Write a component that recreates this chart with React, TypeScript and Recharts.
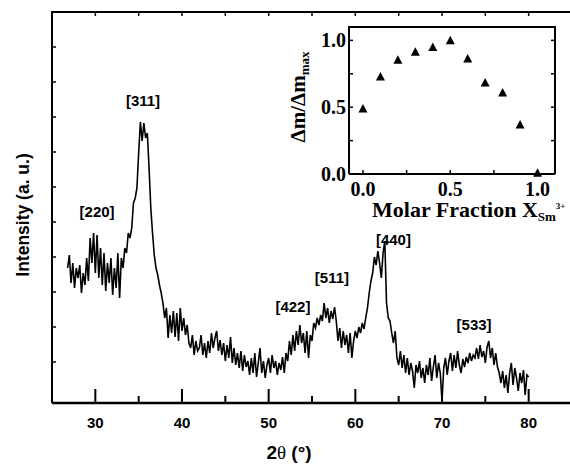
import React from "react";
import {
  LineChart,
  Line,
  XAxis,
  YAxis,
  ReferenceDot,
  ScatterChart,
  Scatter,
} from "recharts";

// XRD pattern (intensity in arbitrary units)
const twoThetaStart = 26.8;
const twoThetaStep = 0.2;
const intensity = [
  135,
  148, 120, 140, 115, 135,
  125, 138, 110, 130, 118,
  145, 122, 165, 140, 170,
  130, 168, 125, 155, 118,
  150, 112, 140, 120, 145,
  108, 135, 115, 150, 105,
  145, 135, 155, 150, 170,
  165, 175, 200, 205, 215,
  250, 281, 262, 280, 265,
  270, 235, 195, 170, 148,
  135, 128, 118, 110, 100,
  85, 95, 65, 88, 70,
  92, 66, 90, 62, 95,
  72, 85, 68, 78, 60,
  55, 68, 48, 62, 52,
  55, 68, 48, 60, 45,
  62, 50, 70, 55, 65,
  72, 52, 63, 48, 60,
  42, 58, 45, 66, 40,
  55, 38, 50, 35, 52,
  32, 48, 36, 42, 28,
  45, 30, 50, 26, 40,
  55, 30, 42, 25, 38,
  45, 30, 48, 35, 42,
  28, 40, 33, 46, 30,
  50, 42, 62, 48, 68,
  52, 72, 58, 78, 60,
  70, 50, 72, 45, 68,
  62, 80, 75, 85, 78,
  88, 82, 100, 85, 95,
  80, 92, 84, 96, 82,
  62, 75, 55, 72, 58,
  68, 50, 70, 45, 62,
  72, 65, 76, 70, 80,
  74, 85, 95, 110, 122,
  130, 146, 138, 152, 140,
  125, 150, 162, 100, 85,
  82, 70, 60, 72, 45,
  38, 52, 35, 48, 30,
  45, 28, 40, 32, 15,
  38, 30, 42, 25, 35,
  20, 38, 28, 45, 22,
  36, 48, 25, 40, 30,
  2, 35, 45, 28, 42,
  50, 32, 48, 35, 52,
  38, 30, 44, 36, 46,
  40, 50, 42, 48, 45,
  55, 44, 58, 46, 52,
  40, 56, 62, 45, 55,
  38, 50, 36, 30, 20,
  32, 15, 28, 10, 30,
  40, 18, 35, 25, 12,
  30, 20, 33, 8, 28,
  26,
];

const xTicks = [30, 35, 40, 45, 50, 55, 60, 65, 70, 75, 80];
const xMajorTicks = [30, 40, 50, 60, 70, 80];
const yMax = 391;
const yTicks = [41, 76, 111, 146, 181, 216, 251, 286, 321, 356];

const peakLabels = ["[220]", "[311]", "[422]", "[511]", "[440]", "[533]"];
const peakTwoTheta = [30.2, 35.5, 52.8, 57.3, 64.4, 73.7];
const peakLabelHeight = [191, 302, 96, 125, 163, 78];

// inset: normalised mass change vs Sm3+ fraction
const molarFraction = [0, 0.1, 0.2, 0.3, 0.4, 0.5, 0.6, 0.7, 0.8, 0.9, 1.0];
const massRatio = [0.49, 0.73, 0.855, 0.915, 0.95, 1.0, 0.865, 0.685, 0.61, 0.37, 0.01];
const insetYMax = 1.1;
const insetTicks = [0, 0.25, 0.5, 0.75, 1];
const insetLabelled = [0, 0.5, 1];

const xrdData = intensity.map((h, i) => ({
  tt: +(twoThetaStart + i * twoThetaStep).toFixed(1),
  h,
}));
const insetData = molarFraction.map((x, i) => ({ x, y: massRatio[i] }));
const peakData = peakLabels.map((label, i) => ({
  label,
  tt: peakTwoTheta[i],
  h: peakLabelHeight[i],
}));

// plot-area frames (px): main 52..572 x 12..403, inset 349..555 x 27..174
const mainPlotH = 391;

const sans = "'Liberation Sans', Arial, sans-serif";
const serif = "'Liberation Serif', 'Times New Roman', serif";

function BottomTick({ x, y, payload }: any) {
  const major = xMajorTicks.includes(payload.value);
  const top = y - mainPlotH;
  return (
    <g>
      <line x1={x} x2={x} y1={y} y2={y - (major ? 14 : 7)} stroke="#000" strokeWidth={2} />
      <line x1={x} x2={x} y1={top} y2={top + 4} stroke="#000" strokeWidth={1.5} />
      {major && (
        <text x={x} y={y + 25} textAnchor="middle" fontFamily={sans} fontWeight="bold" fontSize={15} fill="#000">
          {payload.value}
        </text>
      )}
    </g>
  );
}

function LeftTick({ x, y }: any) {
  return <line x1={x} x2={x + 4} y1={y} y2={y} stroke="#000" strokeWidth={1.5} />;
}

function InsetBottomTick({ x, y, payload }: any) {
  const labelled = insetLabelled.includes(payload.value);
  return (
    <g>
      <line x1={x} x2={x} y1={y} y2={y - 4} stroke="#000" strokeWidth={1.5} />
      {labelled && (
        <text x={x} y={y + 22} textAnchor="middle" fontFamily={serif} fontWeight="bold" fontSize={20} fill="#000">
          {payload.value.toFixed(1)}
        </text>
      )}
    </g>
  );
}

function InsetLeftTick({ x, y, payload }: any) {
  const labelled = insetLabelled.includes(payload.value);
  return (
    <g>
      <line x1={x} x2={x + 4} y1={y} y2={y} stroke="#000" strokeWidth={1.5} />
      {labelled && (
        <text x={x - 3} y={y + 7} textAnchor="end" fontFamily={serif} fontWeight="bold" fontSize={20} fill="#000">
          {payload.value.toFixed(1)}
        </text>
      )}
    </g>
  );
}

function InsetRightTick({ x, y }: any) {
  return <line x1={x} x2={x - 4} y1={y} y2={y} stroke="#000" strokeWidth={1.5} />;
}

function Triangle({ cx, cy }: any) {
  return <polygon points={`${cx - 4.5},${cy + 4} ${cx + 4.5},${cy + 4} ${cx},${cy - 4.5}`} fill="#000" />;
}

function NoShape() {
  return null;
}

export default function App() {
  return (
    <div style={{ position: "absolute", left: 0, top: 0, width: 570, height: 470, overflow: "hidden", background: "#fff" }}>
      <div style={{ position: "absolute", left: 0, top: 0 }}>
        <LineChart width={580} height={470} data={xrdData} margin={{ top: 12, right: 8, bottom: 37, left: 0 }}>
          <XAxis
            dataKey="tt"
            type="number"
            domain={[25, 85]}
            ticks={xTicks}
            interval={0}
            height={30}
            tickSize={0}
            tickMargin={0}
            tickLine={false}
            axisLine={{ stroke: "#000", strokeWidth: 2.5 }}
            tick={<BottomTick />}
          />
          <YAxis
            type="number"
            domain={[0, yMax]}
            ticks={yTicks}
            interval={0}
            width={52}
            tickSize={0}
            tickMargin={0}
            tickLine={false}
            axisLine={{ stroke: "#000", strokeWidth: 2 }}
            tick={<LeftTick />}
          />
          <Line
            type="linear"
            dataKey="h"
            stroke="#000"
            strokeWidth={1.6}
            dot={false}
            isAnimationActive={false}
          />
          {peakData.map((p) => (
            <ReferenceDot
              key={p.label}
              x={p.tt}
              y={p.h}
              r={0}
              stroke="none"
              fill="none"
              label={{
                value: p.label,
                position: "center",
                fontFamily: sans,
                fontWeight: "bold",
                fontSize: 15,
                fill: "#000",
              }}
            />
          ))}
        </LineChart>
      </div>

      <div style={{ position: "absolute", left: 290, top: 0 }}>
        <ScatterChart width={280} height={230} margin={{ top: 27, right: 5, bottom: 26, left: 19 }}>
          <XAxis
            dataKey="x"
            type="number"
            domain={[-0.08, 1.1]}
            ticks={insetTicks}
            interval={0}
            height={30}
            tickSize={0}
            tickMargin={0}
            tickLine={false}
            axisLine={{ stroke: "#000", strokeWidth: 2 }}
            tick={<InsetBottomTick />}
          />
          <YAxis
            dataKey="y"
            type="number"
            domain={[0, insetYMax]}
            ticks={insetTicks}
            interval={0}
            width={40}
            tickSize={0}
            tickMargin={0}
            tickLine={false}
            axisLine={{ stroke: "#000", strokeWidth: 2 }}
            tick={<InsetLeftTick />}
          />
          <YAxis
            yAxisId="right"
            dataKey="y"
            orientation="right"
            type="number"
            domain={[0, insetYMax]}
            ticks={insetTicks}
            interval={0}
            width={10}
            tickSize={0}
            tickMargin={0}
            tickLine={false}
            axisLine={{ stroke: "#000", strokeWidth: 2 }}
            tick={<InsetRightTick />}
          />
          <Scatter data={insetData} shape={<Triangle />} isAnimationActive={false} />
          <Scatter data={insetData} yAxisId="right" shape={<NoShape />} isAnimationActive={false} />
        </ScatterChart>
      </div>

      <svg width={570} height={470} style={{ position: "absolute", left: 0, top: 0, pointerEvents: "none" }}>
        {/* closing top borders of the two frames */}
        <line x1={51} x2={570} y1={12} y2={12} stroke="#000" strokeWidth={2} />
        <line x1={348} x2={556} y1={27} y2={27} stroke="#000" strokeWidth={2} />
        <text
          transform="translate(29,215) rotate(-90)"
          textAnchor="middle"
          fontFamily={sans}
          fontWeight="bold"
          fontSize={17.5}
          fill="#000"
        >
          Intensity (a. u.)
        </text>
        <text x={289} y={459} textAnchor="middle" fontFamily={sans} fontWeight="bold" fontSize={19} fill="#000">
          2<tspan fontFamily={serif} fontWeight="normal">θ</tspan> (°)
        </text>
        <text
          transform="translate(305,97) rotate(-90)"
          textAnchor="middle"
          fontFamily={serif}
          fontWeight="bold"
          fontSize={21}
          fill="#000"
        >
          Δm/Δm<tspan fontSize={13} dy={4}>max</tspan>
        </text>
        <text x={372} y={217} fontFamily={serif} fontWeight="bold" fontSize={22} fill="#000">
          Molar Fraction X<tspan fontSize={13} dy={4}>Sm</tspan>
          <tspan fontSize={9} dy={-12}>3+</tspan>
        </text>
      </svg>
    </div>
  );
}
